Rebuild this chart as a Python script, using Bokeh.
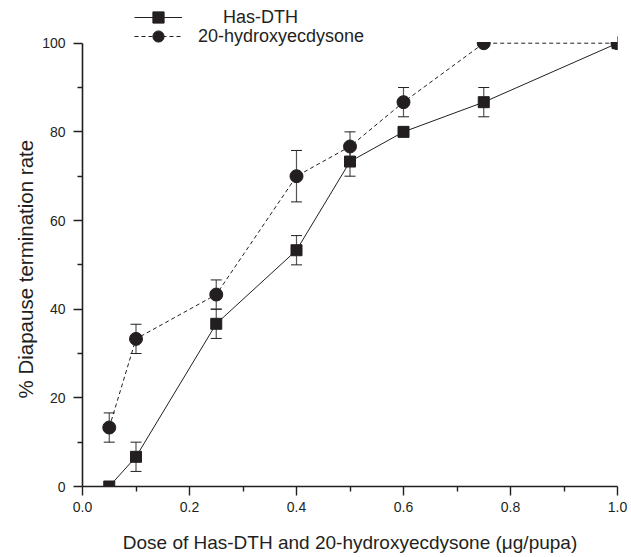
from bokeh.plotting import figure
from bokeh.models import (ColumnDataSource, Whisker, Legend, LegendItem, FixedTicker,
                          BoxAnnotation, Title)
from bokeh.embed import file_html
from bokeh.resources import INLINE

# ---- data ----
dose = [0.05, 0.1, 0.25, 0.4, 0.5, 0.6, 0.75, 1.0]
dth_rate = [0.0, 6.7, 36.7, 53.3, 73.3, 80.0, 86.7, 100.0]
dth_err = [0.0, 3.3, 3.3, 3.3, 3.3, 0.0, 3.3, 0.0]
ecd_rate = [13.3, 33.3, 43.3, 70.0, 76.7, 86.7, 100.0, 100.0]
ecd_err = [3.3, 3.3, 3.3, 5.8, 3.3, 3.3, 0.0, 0.0]

x_ticks = [0.0, 0.2, 0.4, 0.6, 0.8, 1.0]
x_minor = [0.1, 0.3, 0.5, 0.7, 0.9]
y_ticks = [0, 20, 40, 60, 80, 100]
y_minor = [10, 30, 50, 70, 90]

INK = "#231f20"
FONT = "Liberation Sans"

# frame extends above the 100 line so the legend (drawn in the frame) is not clipped
FRAME_H = 478
AXIS_H = 443.3
y_top = y_ticks[-1] * FRAME_H / AXIS_H

p = figure(frame_width=535, frame_height=FRAME_H, x_range=(0, 1.0), y_range=(0, y_top),
           output_backend="svg", toolbar_location=None,
           min_border_left=82, min_border_right=12, min_border_top=8, min_border_bottom=68)
p.xgrid.visible = False
p.ygrid.visible = False
p.outline_line_color = None
p.background_fill_color = "white"
p.border_fill_color = "white"

def err_source(rate, err):
    xs, lo, hi = [], [], []
    for x, r, e in zip(dose, rate, err):
        if e > 0:
            xs.append(x); lo.append(r - e); hi.append(r + e)
    return ColumnDataSource(dict(x=xs, lower=lo, upper=hi))

for rate, err in ((dth_rate, dth_err), (ecd_rate, ecd_err)):
    w = Whisker(source=err_source(rate, err), base="x", lower="lower", upper="upper",
                line_color="#555555", line_width=1.2)
    w.upper_head.size = 11
    w.lower_head.size = 11
    w.upper_head.line_color = INK
    w.lower_head.line_color = INK
    p.add_layout(w)

src_dth = ColumnDataSource(dict(x=dose, y=dth_rate))
src_ecd = ColumnDataSource(dict(x=dose, y=ecd_rate))

l1 = p.line("x", "y", source=src_dth, line_color=INK, line_width=1)
m1 = p.scatter("x", "y", source=src_dth, marker="square", size=11, fill_color=INK, line_color=INK)
l2 = p.line("x", "y", source=src_ecd, line_color=INK, line_width=1, line_dash="4 3")
m2 = p.scatter("x", "y", source=src_ecd, marker="circle", size=13, fill_color=INK, line_color=INK)

# white mask above the 100 line: markers at 100 look cut by the plot edge, as in the original
mask = BoxAnnotation(bottom=y_ticks[-1] + 0.25, fill_color="white", fill_alpha=1.0,
                     line_alpha=0, level="glyph")
p.add_layout(mask)

for ax in (p.xaxis[0], p.yaxis[0]):
    ax.axis_line_color = INK
    ax.axis_line_width = 1.6
    ax.major_tick_line_color = INK
    ax.minor_tick_line_color = INK
    ax.major_tick_line_width = 1.4
    ax.minor_tick_line_width = 1.4
    ax.major_tick_out = 9
    ax.major_tick_in = 0
    ax.minor_tick_out = 5
    ax.minor_tick_in = 0
    ax.major_label_text_font = FONT
    ax.major_label_text_font_size = "14px"
    ax.major_label_text_color = INK
    ax.axis_label_text_font = FONT
    ax.axis_label_text_font_style = "normal"
    ax.axis_label_text_color = INK

p.xaxis[0].ticker = FixedTicker(ticks=x_ticks, minor_ticks=x_minor)
p.yaxis[0].ticker = FixedTicker(ticks=y_ticks, minor_ticks=y_minor)
p.yaxis[0].bounds = (y_ticks[0], y_ticks[-1])
p.xaxis[0].major_label_overrides = {0.0: "0.0", 1.0: "1.0"}
p.xaxis[0].axis_label = "Dose of Has-DTH and 20-hydroxyecdysone (\u03bcg/pupa)"
p.xaxis[0].axis_label_text_font_size = "19px"
p.xaxis[0].major_label_standoff = 6
p.yaxis[0].major_label_standoff = 8
p.xaxis[0].axis_label_standoff = 17

# y-axis title centred on the 0-100 axis (not on the taller frame)
ytitle = Title(text="% Diapause termination rate", align="left", offset=88, standoff=6,
               text_font=FONT, text_font_size="20.5px", text_font_style="normal",
               text_color=INK)
p.add_layout(ytitle, "left")

def add_legend(label, renderers, standoff, loc):
    lg = Legend(items=[LegendItem(label=label, renderers=renderers)], location=loc,
                glyph_width=48, glyph_height=28, label_height=28, label_standoff=standoff,
                padding=0, margin=0, spacing=0, border_line_color=None,
                background_fill_alpha=0, label_text_font=FONT, label_text_font_size="18px",
                label_text_color=INK)
    p.add_layout(lg, "center")

add_legend("Has-DTH", [l1, m1], 41, (52, 455))
add_legend("20-hydroxyecdysone", [l2, m2], 16, (52, 436))

open("out.html", "w").write(file_html(p, INLINE))
